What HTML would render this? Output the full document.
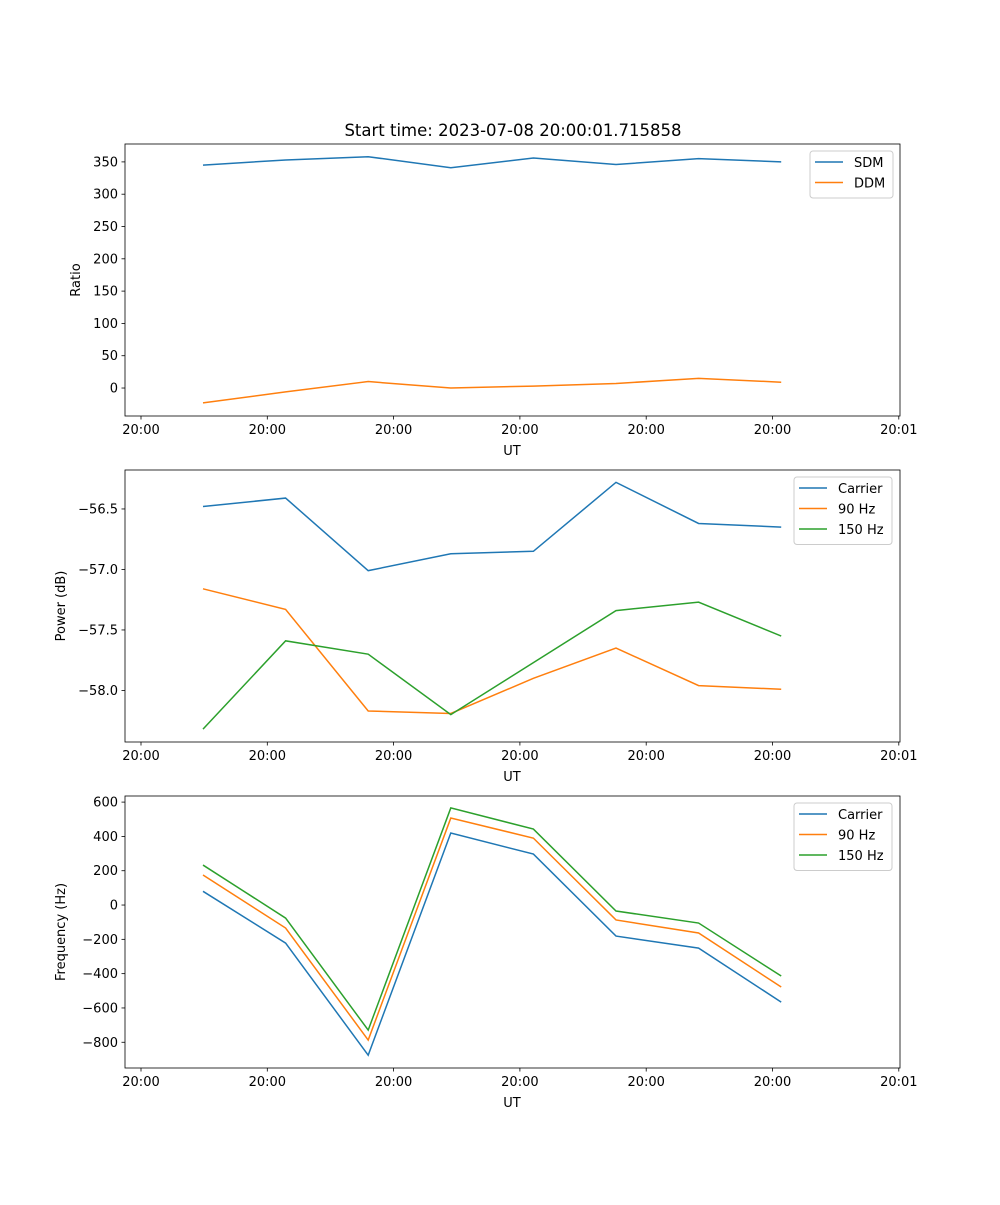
<!DOCTYPE html>
<html><head><meta charset="utf-8"><style>
body{margin:0;background:#fff}
svg{font-family:"DejaVu Sans","Liberation Sans",sans-serif;font-size:13px}
</style></head><body>
<svg id="chart" width="1000" height="1200" xmlns="http://www.w3.org/2000/svg"></svg>
<script>
const xIndex=[0,1,2,3,4,5,6,7];
const xTickLabels=["20:00","20:00","20:00","20:00","20:00","20:00","20:01"];
const sdm=[345,353,358,341,356,346,355,350];
const ddm=[-23,-6,10,0,3,7,15,9];
const powCarrier=[-56.48,-56.41,-57.01,-56.87,-56.85,-56.28,-56.62,-56.65];
const pow90=[-57.16,-57.33,-58.17,-58.19,-57.9,-57.65,-57.96,-57.99];
const pow150=[-58.32,-57.59,-57.70,-58.2,-57.77,-57.34,-57.27,-57.55];
const freqCarrier=[80,-222,-875,420,297,-181,-251,-566];
const freq90=[175,-134,-787,507,390,-87,-163,-478];
const freq150=[233,-76,-729,566,443,-35,-105,-414];
const ticks1=[0,50,100,150,200,250,300,350];
const ticks2=[-58.0,-57.5,-57.0,-56.5];
const ticks3=[-800,-600,-400,-200,0,200,400,600];

const svg=document.getElementById('chart');
const NS="http://www.w3.org/2000/svg";
function mk(tag,attrs,parent){const e=document.createElementNS(NS,tag);for(const k in attrs)e.setAttribute(k,attrs[k]);(parent||svg).appendChild(e);return e;}
const L=125,R=900;
const xs=i=>203+82.6*i;
const C=['#1f77b4','#ff7f0e','#2ca02c'];

function panel(top,bot,vTop,vBot,ticks,fmt,ylabel,series,names,legW,legX,name){
  const g=mk('g',{});
  
  
  const ys=v=>top+(vTop-v)/(vTop-vBot)*(bot-top);
  series.forEach((s,k)=>{
    const p=mk('polyline',{points:s.map((v,i)=>xs(xIndex[i])+','+ys(v)).join(' '),fill:'none',stroke:C[k],'stroke-width':1.5},g);
    
    
  });
  mk('rect',{x:L,y:top,width:R-L,height:bot-top,fill:'none',stroke:'#000','stroke-width':0.8},g);
  ticks.forEach(t=>{
    const y=ys(t);
    mk('line',{x1:L-3.5,x2:L,y1:y,y2:y,stroke:'#000','stroke-width':0.8},g);
    const tx=mk('text',{x:L-7,y:y+4.5,'text-anchor':'end'},g);tx.textContent=fmt(t);
    
    
  });
  xTickLabels.forEach((lab,k)=>{
    const x=141+126.3*k;
    mk('line',{x1:x,x2:x,y1:bot,y2:bot+3.5,stroke:'#000','stroke-width':0.8},g);
    const tx=mk('text',{x:x,y:bot+18,'text-anchor':'middle'},g);tx.textContent=lab;
    
    
  });
  const xl=mk('text',{x:512,y:bot+39,'text-anchor':'middle'},g);xl.textContent='UT';
  
  
  const yl=mk('text',{transform:`translate(${name==='ratio-panel'?80:65},${(top+bot)/2}) rotate(-90)`,'text-anchor':'middle'},g);yl.textContent=ylabel;
  
  
  const lg=mk('g',{},g);
  
  
  mk('rect',{x:legX,y:top+7,width:legW,height:names.length*20.5+6,rx:3,fill:'#fff',stroke:'#ccc','stroke-width':1},lg);
  names.forEach((n,k)=>{
    const y=top+18+k*20.5;
    mk('line',{x1:legX+5,x2:legX+33,y1:y,y2:y,stroke:C[k],'stroke-width':1.5},lg);
    const t=mk('text',{x:legX+44,y:y+5},lg);t.textContent=n;
    
    
  });
}
const minus=s=>s.replace('-','\u2212');
panel(144,416,377.7,-43.3,ticks1,t=>minus(String(t)),'Ratio',[sdm,ddm],['SDM','DDM'],83,810,'ratio-panel');
panel(470,742,-56.178,-58.426,ticks2,t=>minus(t.toFixed(1)),'Power (dB)',[powCarrier,pow90,pow150],['Carrier','90 Hz','150 Hz'],98,794,'power-panel');
panel(796,1068,635.6,-950,ticks3,t=>minus(String(t)),'Frequency (Hz)',[freqCarrier,freq90,freq150],['Carrier','90 Hz','150 Hz'],98,794,'frequency-panel');
const title=mk('text',{x:513,y:136,'text-anchor':'middle','font-size':'16.5'});
title.textContent='Start time: 2023-07-08 20:00:01.715858';


</script>
</body></html>
